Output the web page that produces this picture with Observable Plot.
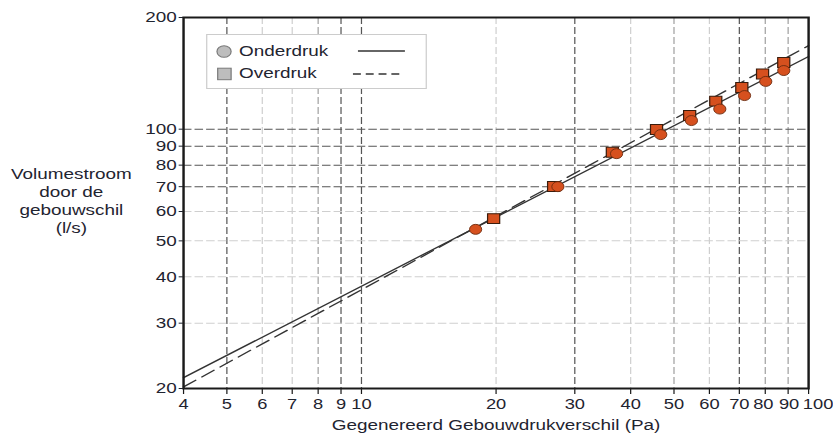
<!DOCTYPE html>
<html><head><meta charset="utf-8">
<script src="https://cdn.jsdelivr.net/npm/d3@7"></script>
<script src="https://cdn.jsdelivr.net/npm/@observablehq/plot@0.6"></script>
<style>
html,body{margin:0;padding:0;background:#fff;}
#chart{width:833px;height:434px;overflow:hidden;}
#chart svg{transform:scaleX(1.2196);transform-origin:0 0;display:block;}
</style></head><body><div id="chart"></div>
<script>
// Tick values
const xTicks = [4,5,6,7,8,9,10,20,30,40,50,60,70,80,90,100];
const yTicks = [20,30,40,50,60,70,80,90,100,200];
// Grid lines (three shades as in the reference)
const gridXDark = [5,9,10,30,70];
const gridXMid = [8,50,80,90];
const gridXLight = [6,7,20,40,60];
const gridYDark = [70,80,90,100];
const gridYLight = [30,40,50,60];
// Measurements: pressure difference (Pa) and flow (l/s)
const onderP = [18.0,27.5,37.2,46.7,54.7,63.3,71.9,80.2,88.0];
const onderQ = [53.7,70.0,85.9,96.7,105.5,113.3,123.2,134.5,143.9];
const overP = [19.75,26.9,36.4,45.7,54.2,62.0,70.9,78.9,88.0];
const overQ = [57.4,70.1,86.7,99.8,108.9,119.0,129.5,140.9,151.3];
// Fitted power-law lines (end points)
const fitP = [4,100];
const onderFitQ = [21.4,157];
const overFitQ = [20.2,168];
const seriesNames = ["Onderdruk","Overdruk"];
const xTitle = "Gegenereerd Gebouwdrukverschil (Pa)";
const yTitle = ["Volumestroom","door de","gebouwschil","(l/s)"];

const onder = onderP.map((p,i)=>({p, q: onderQ[i]}));
const over = overP.map((p,i)=>({p, q: overQ[i]}));
const onderFit = fitP.map((p,i)=>({p, q: onderFitQ[i]}));
const overFit = fitP.map((p,i)=>({p, q: overFitQ[i]}));

const TXT = "#1f2430";
const FS = 15.5;
const FSX = 15;
const FONT = "'Liberation Sans', Arial, sans-serif";
const W = 683, H = 434;
const dash = {strokeDasharray: "7,3", strokeWidth: 1};
const yMin = 20;
const xLabel = (filter, dx) => Plot.text(xTicks, {filter, x: d => d, text: d => String(d), frameAnchor: "bottom", dy: 9.5, dx, lineAnchor: "top", fill: TXT, fontSize: FSX});
const plot = Plot.plot({
  width: W, height: H,
  marginLeft: 150, marginRight: 20.5, marginTop: 17, marginBottom: 46,
  style: {fontFamily: FONT, fontSize: FS + "px", color: TXT, background: "#fff", overflow: "visible"},
  x: {type: "log", domain: [4,100], axis: null},
  y: {type: "log", domain: [yMin,200], ticks: yTicks, tickFormat: d => String(d), tickSize: 3.5, tickPadding: 2, label: null},
  marks: [
    Plot.ruleX(gridXLight, {stroke: "#cfcfcf", ...dash}),
    Plot.ruleX(gridXMid, {stroke: "#a0a0a0", ...dash}),
    Plot.ruleX(gridXDark, {stroke: "#555", ...dash}),
    Plot.ruleY(gridYLight, {stroke: "#cfcfcf", strokeDasharray: "7,2.5", strokeWidth: 1}),
    Plot.ruleY(gridYDark, {stroke: "#555", strokeDasharray: "7,2.5", strokeWidth: 1}),
    // x-axis: tick marks and labels for every tick value (crowded labels at the right nudged as in the reference)
    Plot.ruleX(xTicks, {x: d => d, y1: () => yMin, y2: () => yMin, insetBottom: -6, stroke: "#1a1a1a", strokeWidth: 1}),
    xLabel(d => d < 80, 0),
    xLabel(d => d === 80, -1.6),
    xLabel(d => d === 90, 0.8),
    xLabel(d => d === 100, 7.8),
    Plot.line(onderFit, {x: "p", y: "q", stroke: "#333", strokeWidth: 1.3}),
    Plot.line(overFit, {x: "p", y: "q", stroke: "#333", strokeWidth: 1.3, strokeDasharray: "12,6"}),
    Plot.dot(over, {x: "p", y: "q", symbol: "square", r: 5.6, fill: "#d6501e", stroke: "#3a1c0c", strokeWidth: 1}),
    Plot.dot(onder, {x: "p", y: "q", symbol: "circle", r: 5, fill: "#d6501e", stroke: "#6a2a0e", strokeWidth: 0.8}),
    Plot.frame({stroke: "#1a1a1a", strokeWidth: 2}),
    Plot.text([xTitle], {text: d => d, frameAnchor: "bottom", dy: 41, lineAnchor: "bottom", fill: TXT, fontSize: FS}),
    Plot.text([yTitle.join("\n")], {text: d => d, frameAnchor: "left", dx: -92, dy: -3, textAnchor: "middle", lineAnchor: "middle", lineHeight: 1.17, fill: TXT, fontSize: FS})
  ]
});

// Legend drawn inside the frame
const svg = d3.select(plot);
const lg = svg.append("g").attr("text-anchor", "start");
lg.append("rect").attr("x", 169.5).attr("y", 34.5).attr("width", 180).attr("height", 54)
  .attr("fill", "#fff").attr("stroke", "#cccccc").attr("stroke-width", 1);
lg.append("circle").attr("cx", 183.7).attr("cy", 51.5).attr("r", 5.8)
  .attr("fill", "#bdbdbd").attr("stroke", "#7a7a7a").attr("stroke-width", 1);
lg.append("rect").attr("x", 178.5).attr("y", 68.2).attr("width", 11).attr("height", 11.5)
  .attr("fill", "#bdbdbd").attr("stroke", "#7a7a7a").attr("stroke-width", 1);
lg.selectAll("text.lt").data(seriesNames).join("text")
  .attr("class", "lt")
  .attr("x", 196).attr("y", (d,i) => i === 0 ? 56 : 78)
  .attr("text-anchor", "start")
  .attr("fill", TXT).attr("font-size", FS).attr("font-family", FONT)
  .text(d => d);
lg.append("line").attr("x1", 293.5).attr("x2", 332).attr("y1", 51).attr("y2", 51)
  .attr("stroke", "#333").attr("stroke-width", 1.3);
lg.append("line").attr("x1", 289.4).attr("x2", 331.2).attr("y1", 74).attr("y2", 74)
  .attr("stroke", "#333").attr("stroke-width", 1.3).attr("stroke-dasharray", "6.5,4");

document.getElementById("chart").appendChild(plot);
</script></body></html>
